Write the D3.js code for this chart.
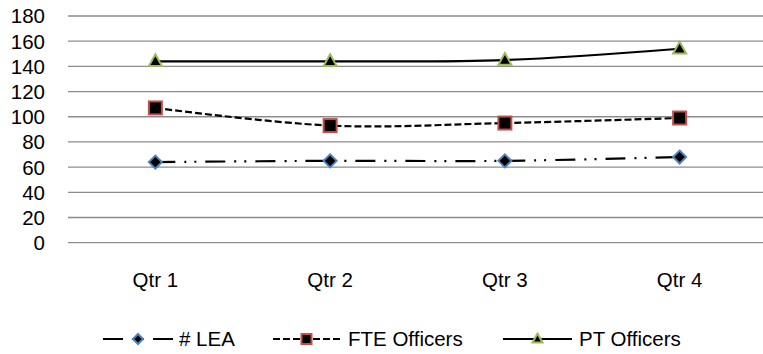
<!DOCTYPE html>
<html><head><meta charset="utf-8">
<script src="https://cdn.jsdelivr.net/npm/d3@7"></script>
<style>body{margin:0;background:#fff}svg{display:block}text{font-family:"Liberation Sans",Arial,sans-serif;fill:#000}</style>
</head><body><svg id="c" width="763" height="354"></svg>
<script>
const quarters = ["Qtr 1","Qtr 2","Qtr 3","Qtr 4"];
const leaValues = [64, 65, 65, 68];
const fteValues = [107, 93, 95, 99];
const ptValues = [144, 144, 145, 154];
const yTicks = [0,20,40,60,80,100,120,140,160,180];
const seriesNames = ["# LEA","FTE Officers","PT Officers"];

const svg = d3.select("#c");
const x = d3.scaleBand().domain(quarters).range([68, 767]);
const y = d3.scaleLinear().domain([0,180]).range([242.7, 16]);
const fs = 20.5;

// grid
svg.append("g").selectAll("line").data(yTicks).join("line")
  .attr("x1",68).attr("x2",763).attr("y1",d=>y(d)).attr("y2",d=>y(d))
  .attr("stroke","#8c8c8c").attr("stroke-width",1.3);
svg.append("g").selectAll("text").data(yTicks).join("text")
  .attr("x",45).attr("y",d=>y(d)).attr("dy","0.36em").attr("text-anchor","end")
  .attr("font-size",fs).text(d=>d);
svg.append("g").selectAll("text").data(quarters).join("text")
  .attr("x",d=>x(d)+x.bandwidth()/2).attr("y",287).attr("text-anchor","middle")
  .attr("font-size",fs).text(d=>d);

const styles = [
  {vals:leaValues, dash:"20,9,2,8,2,9", marker:"diamond", stroke:"#4f81bd"},
  {vals:fteValues, dash:"7,3", marker:"square", stroke:"#c0504d"},
  {vals:ptValues, dash:null, marker:"triangle", stroke:"#9bbb59"}
];
const cx = q => x(q)+x.bandwidth()/2;
const line = d3.line().x((d,i)=>cx(quarters[i])).y(d=>y(d)).curve(d3.curveCardinal.tension(0));

function marker(g, type, px, py, s, stroke){
  if(type==="diamond"){
    g.append("path").attr("d",`M${px},${py-s/2}L${px+s/2},${py}L${px},${py+s/2}L${px-s/2},${py}Z`)
     .attr("fill","#000").attr("stroke",stroke).attr("stroke-width",2);
  } else if(type==="square"){
    g.append("rect").attr("x",px-s/2).attr("y",py-s/2).attr("width",s).attr("height",s)
     .attr("fill","#000").attr("stroke",stroke).attr("stroke-width",2);
  } else {
    const h = s*0.9;
    g.append("path").attr("d",`M${px},${py-h*0.6}L${px+s/2},${py+h*0.4}L${px-s/2},${py+h*0.4}Z`)
     .attr("fill","#000").attr("stroke",stroke).attr("stroke-width",2);
  }
}

styles.forEach(st=>{
  const g = svg.append("g");
  g.append("path").attr("d",line(st.vals)).attr("fill","none").attr("stroke","#000")
   .attr("stroke-width",2.2).attr("stroke-dasharray",st.dash);
  st.vals.forEach((v,i)=>marker(g, st.marker, cx(quarters[i]), y(v), 13, st.stroke));
});

// legend
const legendItems = [
  {x0:103, x1:173, tx:179},
  {x0:273, x1:340, tx:348},
  {x0:503, x1:572, tx:579}
];
const ly = 339;
legendItems.forEach((it,i)=>{
  const g = svg.append("g");
  const st = styles[i];
  g.append("line").attr("x1",it.x0).attr("x2",it.x1).attr("y1",ly).attr("y2",ly)
   .attr("stroke","#000").attr("stroke-width",2.2).attr("stroke-dasharray", st.dash);
  marker(g, st.marker, (it.x0+it.x1)/2, ly, 10, st.stroke);
  g.append("text").attr("x",it.tx).attr("y",ly).attr("dy","0.36em").attr("font-size",fs).text(seriesNames[i]);
});
</script></body></html>
